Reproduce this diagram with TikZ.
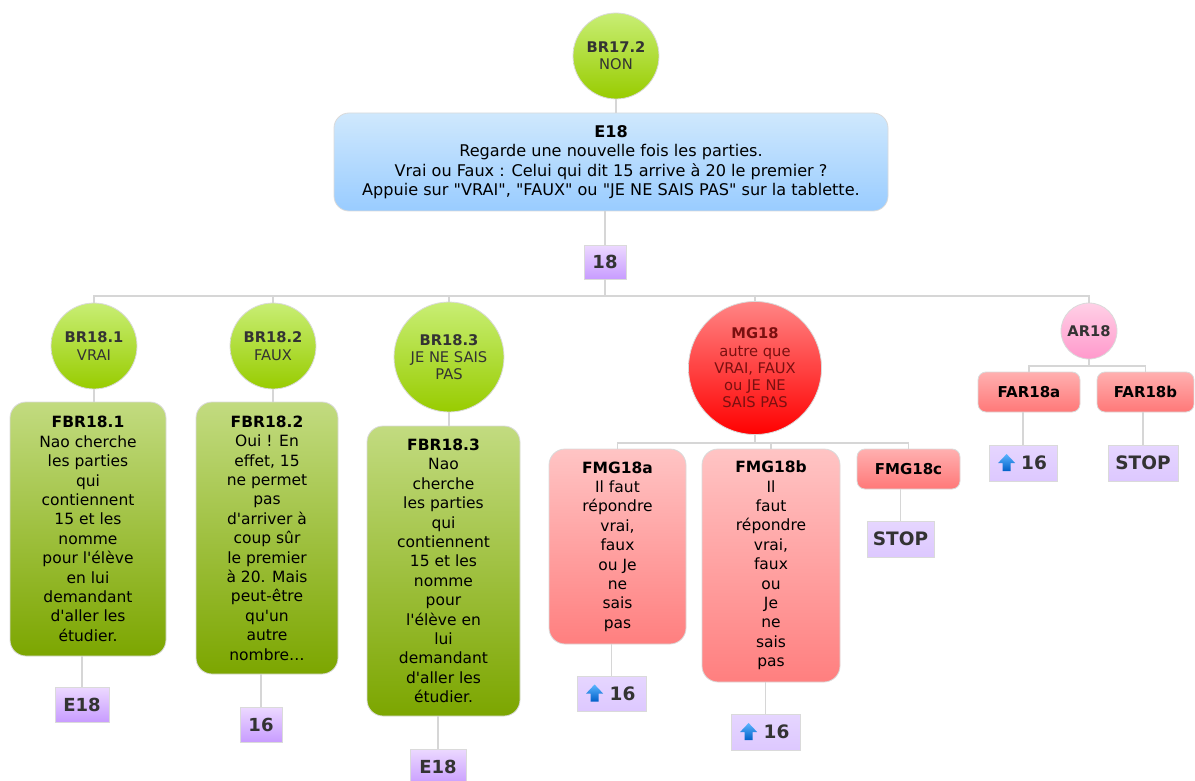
\documentclass[tikz,border=0pt]{standalone}
\usepackage{fontspec}
\setmainfont{DejaVu Sans}[Ligatures=TeXOff]
\definecolor{linegray}{HTML}{D6D6D6}
\definecolor{bordergray}{HTML}{DADADA}
\definecolor{gcTop}{HTML}{C8EE74}
\definecolor{gcBot}{HTML}{98CC00}
\definecolor{gbTop}{HTML}{C2DB80}
\definecolor{gbMid}{HTML}{80AA04}
\definecolor{gbBot}{HTML}{7CA600}
\definecolor{blTop}{HTML}{CFE8FD}
\definecolor{blBot}{HTML}{99CCFF}
\definecolor{puTop}{HTML}{ECD9FF}
\definecolor{puBot}{HTML}{C89CFF}
\definecolor{lvTop}{HTML}{E6D6FF}
\definecolor{lvBot}{HTML}{DDC8FF}
\definecolor{rdTop}{HTML}{FF8585}
\definecolor{rdMid}{HTML}{FF2020}
\definecolor{rdBot}{HTML}{FF0000}
\definecolor{rdText}{HTML}{7A1010}
\definecolor{pkTop}{HTML}{FFD0E6}
\definecolor{pkBot}{HTML}{FF99CC}
\definecolor{fmTop}{HTML}{FFC4C4}
\definecolor{fmMid}{HTML}{FF8080}
\definecolor{fmBot}{HTML}{FF7F7F}
\definecolor{fsTop}{HTML}{FFB0B0}
\definecolor{fsBot}{HTML}{FF7878}
\definecolor{txtgray}{HTML}{333333}
\definecolor{arTop}{HTML}{5AB4FF}
\definecolor{arBot}{HTML}{0060C8}
\tikzset{
  conn/.style={draw=linegray, line width=1.3pt},
  base/.style={draw=bordergray, line width=0.8pt, align=center, inner sep=0pt},
  bodyfont/.style={font=\fontsize{15.5}{19.4}\selectfont},
  circfont/.style={font=\fontsize{14.7}{17.3}\selectfont},
  greencirc/.style={base, circle, circfont, top color=gcTop, bottom color=gcBot, text=txtgray, minimum size=#1},
  redcirc/.style={base, circle, circfont, top color=rdTop, middle color=rdMid, bottom color=rdBot, text=rdText, minimum size=#1},
  pinkcirc/.style={base, circle, circfont, top color=pkTop, bottom color=pkBot, text=txtgray, minimum size=#1},
  greenbox/.style={base, bodyfont, rounded corners=16pt, top color=gbTop, middle color=gbMid, bottom color=gbBot, text=black},
  bluebox/.style={base, font=\fontsize{16.1}{19.5}\selectfont, rounded corners=15pt, top color=blTop, bottom color=blBot, text=black},
  fmgbox/.style={base, bodyfont, rounded corners=16pt, top color=fmTop, middle color=fmMid, bottom color=fmBot, text=black},
  fsbox/.style={base, rounded corners=8pt, top color=fsTop, bottom color=fsBot, text=black, font=\fontsize{15}{19.4}\selectfont\bfseries},
  purplebox/.style={base, top color=puTop, bottom color=puBot, text=txtgray, font=\fontsize{18}{20}\selectfont\bfseries},
  lavbox/.style={base, top color=lvTop, bottom color=lvBot, text=txtgray, font=\fontsize{18.5}{20}\selectfont\bfseries},
  uparrow/.pic={\shade[top color=arTop, bottom color=arBot] (0,-9) -- (8.5,0) -- (4,0) -- (4,8) -- (-4,8) -- (-4,0) -- (-8.5,0) -- cycle;}
}
\begin{document}
\begin{tikzpicture}[x=1pt,y=-1pt]
\useasboundingbox (0,0) rectangle (1195,781);
% top
\node[greencirc=86pt] (br172) at (616,56) {\textbf{BR17.2}\\NON};
\node[bluebox, minimum width=554pt, minimum height=98pt] (e18) at (611,162)
  {\textbf{E18}\\Regarde une nouvelle fois les parties.\\Vrai ou Faux : Celui qui dit 15 arrive à 20 le premier ?\\Appuie sur "VRAI", "FAUX" ou "JE NE SAIS PAS" sur la tablette.};
\node[purplebox, minimum width=42pt, minimum height=34pt] (n18) at (605,262) {18};
\coordinate (bus) at (0,296);
% level 1
\node[greencirc=86pt] (br181) at (94,346) {\textbf{BR18.1}\\VRAI};
\node[greencirc=86pt] (br182) at (273,346) {\textbf{BR18.2}\\FAUX};
\node[greencirc=110pt] (br183) at (449,357) {\textbf{BR18.3}\\JE NE SAIS\\PAS};
\node[redcirc=133pt] (mg18) at (755,368) {\textbf{MG18}\\autre que\\VRAI, FAUX\\ou JE NE\\SAIS PAS};
\node[pinkcirc=56pt] (ar18) at (1089,331) {\textbf{AR18}};
% level 2
\node[greenbox, minimum width=156pt, minimum height=254pt] (fbr181) at (88,529)
  {\textbf{FBR18.1}\\Nao cherche\\les parties\\qui\\contiennent\\15 et les\\nomme\\pour l'élève\\en lui\\demandant\\d'aller les\\étudier.};
\node[purplebox, minimum width=54pt, minimum height=35pt] (e18a) at (82,704.5) {E18};
\node[greenbox, minimum width=142pt, minimum height=272pt] (fbr182) at (267,538)
  {\textbf{FBR18.2}\\Oui ! En\\effet, 15\\ne permet\\pas\\d'arriver à\\coup sûr\\le premier\\à 20. Mais\\peut-être\\qu'un\\autre\\nombre…};
\node[purplebox, minimum width=42pt, minimum height=35pt] (n16a) at (261,724.5) {16};
\node[greenbox, minimum width=153pt, minimum height=290pt] (fbr183) at (443.5,571)
  {\textbf{FBR18.3}\\Nao\\cherche\\les parties\\qui\\contiennent\\15 et les\\nomme\\pour\\l'élève en\\lui\\demandant\\d'aller les\\étudier.};
\node[purplebox, minimum width=56pt, minimum height=36pt] (e18b) at (438,767) {E18};
\node[fmgbox, minimum width=137pt, minimum height=195pt] (fmg18a) at (617.5,546.5)
  {\textbf{FMG18a}\\Il faut\\répondre\\vrai,\\faux\\ou Je\\ne\\sais\\pas};
\node[lavbox, minimum width=69pt, minimum height=35pt] (up16a) at (611.5,693.5) {\hspace*{22pt}16};
\node[fmgbox, minimum width=138pt, minimum height=233pt] (fmg18b) at (771,565.5)
  {\textbf{FMG18b}\\Il\\faut\\répondre\\vrai,\\faux\\ou\\Je\\ne\\sais\\pas};
\node[lavbox, minimum width=69pt, minimum height=36pt] (up16b) at (765.5,732) {\hspace*{22pt}16};
\node[fsbox, minimum width=103pt, minimum height=40pt] (fmg18c) at (908.5,469) {FMG18c};
\node[lavbox, minimum width=67pt, minimum height=36pt] (stopa) at (900.5,539) {STOP};
\node[fsbox, minimum width=102pt, minimum height=40pt] (far18a) at (1029,392) {FAR18a};
\node[fsbox, minimum width=97pt, minimum height=40pt] (far18b) at (1145.5,392) {FAR18b};
\node[lavbox, minimum width=68pt, minimum height=36pt] (up16c) at (1023,463) {\hspace*{22pt}16};
\node[lavbox, minimum width=70pt, minimum height=36pt] (stopb) at (1143,463) {STOP};
% arrow icons
\pic at ([xshift=18pt]up16a.west) {uparrow};
\pic at ([xshift=18pt]up16b.west) {uparrow};
\pic at ([xshift=18pt]up16c.west) {uparrow};
% connectors
\draw[conn] (br172.south) -- (e18.north -| br172.south);
\draw[conn] (e18.south -| n18.north) -- (n18.north);
\draw[conn] (n18.south) -- (n18.south |- bus);
\draw[conn] (br181.north) |- (bus -| ar18.north) -- (ar18.north);
\draw[conn] (br182.north) -- (br182.north |- bus);
\draw[conn] (br183.north) -- (br183.north |- bus);
\draw[conn] (mg18.north) -- (mg18.north |- bus);
\draw[conn] (br181.south) -- (fbr181.north -| br181.south);
\draw[conn] (br182.south) -- (fbr182.north -| br182.south);
\draw[conn] (br183.south) -- (fbr183.north -| br183.south);
\draw[conn] (fbr181.south -| e18a.north) -- (e18a.north);
\draw[conn] (fbr182.south -| n16a.north) -- (n16a.north);
\draw[conn] (fbr183.south -| e18b.north) -- (e18b.north);
\coordinate (mgbus) at (0,443);
\draw[conn] (mg18.south) -- (mg18.south |- mgbus);
\draw[conn] (fmg18a.north) |- (mgbus -| fmg18c.north) -- (fmg18c.north);
\draw[conn] (fmg18b.north) -- (fmg18b.north |- mgbus);
\draw[conn] (fmg18a.south -| up16a.north) -- (up16a.north);
\draw[conn] (fmg18b.south -| up16b.north) -- (up16b.north);
\draw[conn] (fmg18c.south -| stopa.north) -- (stopa.north);
\coordinate (arbus) at (0,366);
\draw[conn] (ar18.south) -- (ar18.south |- arbus);
\draw[conn] (far18a.north) |- (arbus -| far18b.north) -- (far18b.north);
\draw[conn] (far18a.south -| up16c.north) -- (up16c.north);
\draw[conn] (far18b.south -| stopb.north) -- (stopb.north);
\end{tikzpicture}
\end{document}
